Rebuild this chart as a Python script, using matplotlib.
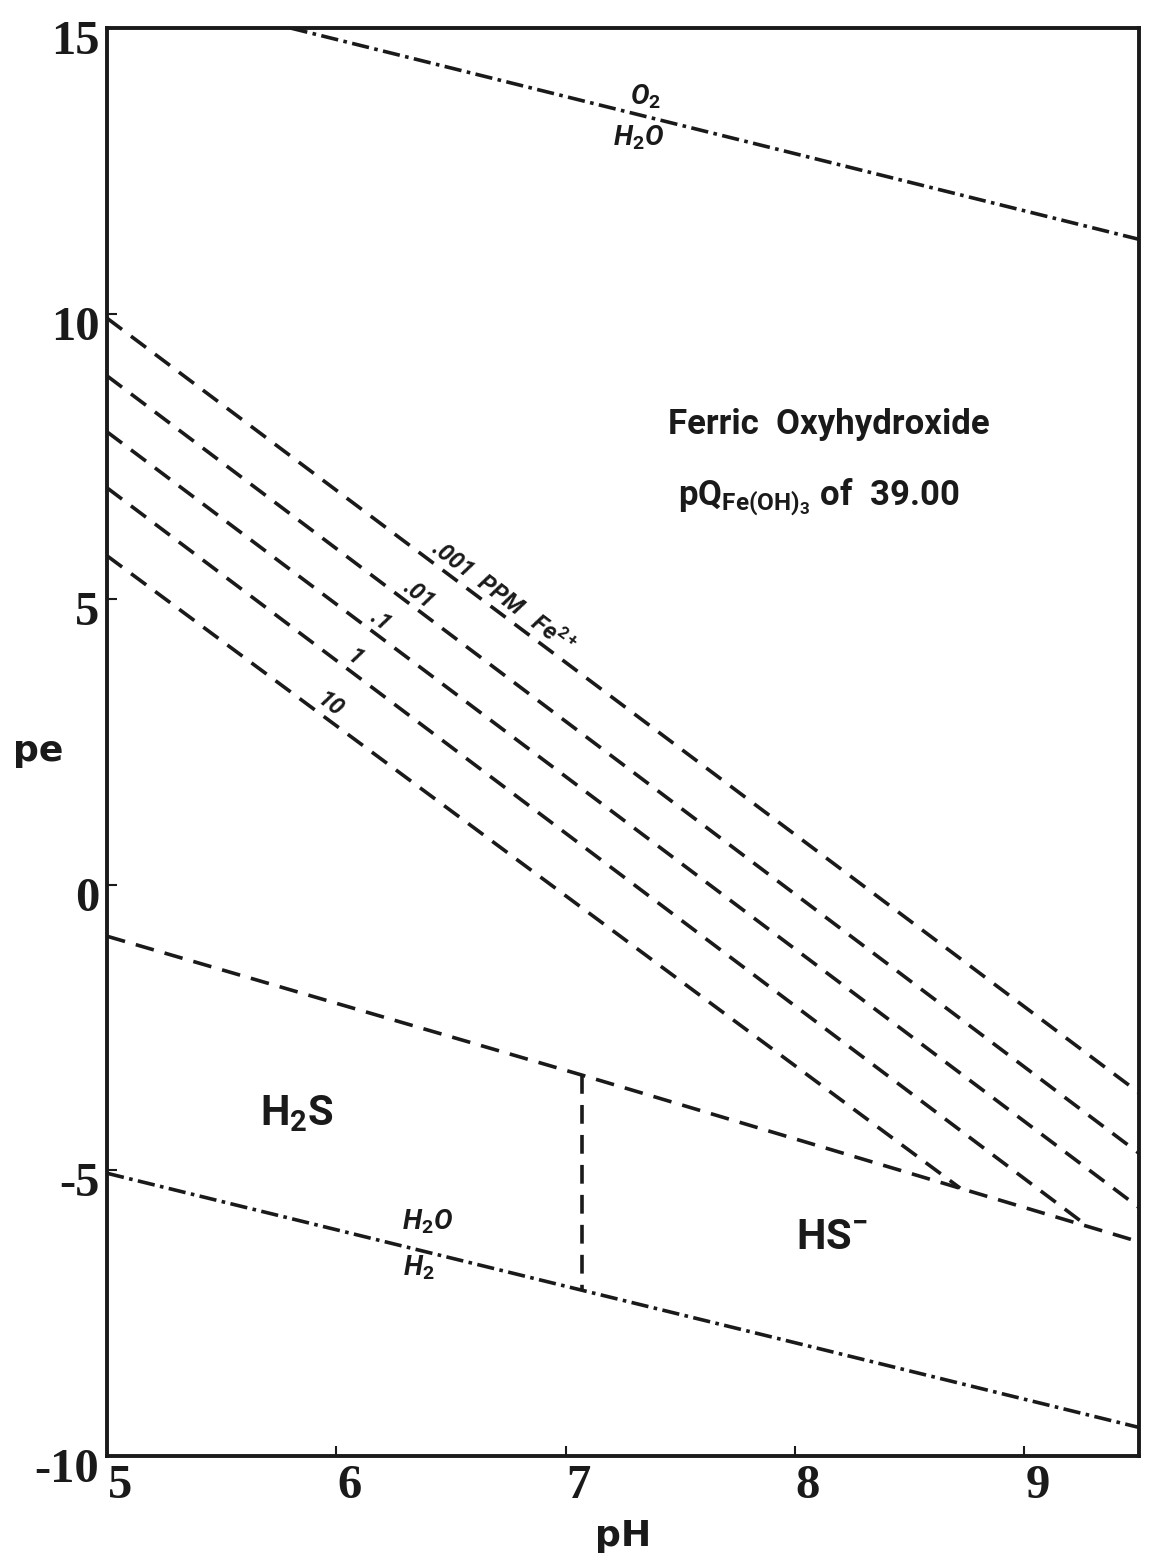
import matplotlib
matplotlib.use("Agg")
import matplotlib.pyplot as plt
import matplotlib.transforms as mtransforms
import numpy as np

# ---------------- data ----------------
ph_limits = [5.0, 9.5]
pe_limits = [-10.0, 15.0]
x_ticks = [5, 6, 7, 8, 9]
y_ticks = [-10, -5, 0, 5, 10, 15]

# water stability limits
o2_ph = [5.8, 9.5]
o2_pe = [15.0, 11.3]
h2_ph = [5.0, 9.5]
h2_pe = [-5.05, -9.5]

# Fe2+ activity lines (ppm), start at pH 5 and end at right edge / sulfur boundary
fe_labels = ['.001', '.01', '.1', '1', '10']
fe_ph_start = [5.0, 5.0, 5.0, 5.0, 5.0]
fe_pe_start = [9.92, 8.91, 7.93, 6.95, 5.76]
fe_ph_end = [9.5, 9.5, 9.5, 9.28, 8.72]
fe_pe_end = [-3.64, -4.70, -5.65, -5.99, -5.31]
fe_label_ph = [6.39, 6.33, 6.16, 6.05, 5.94]

# sulfate / sulfide boundary
s_ph = [5.0, 7.07, 9.5]
s_pe = [-0.90, -3.33, -6.25]
# H2S / HS- boundary
hs_ph = [7.07, 7.07]
hs_pe = [-3.33, -7.07]

# ---------------- style ----------------
FONT = 'Roboto'
plt.rcParams['mathtext.fontset'] = 'custom'
plt.rcParams['mathtext.rm'] = 'Roboto:bold'
plt.rcParams['mathtext.bf'] = 'Roboto:bold'
plt.rcParams['mathtext.it'] = 'Roboto:italic:bold'

INK = '#1a1a1a'

fig = plt.figure(figsize=(11.52, 15.64), dpi=100)
ax = fig.add_axes([107/1152, 1 - 1456/1564, (1139-107)/1152, (1456-28)/1564])

lw = 2.6
dash = (0, (5.2, 3.1))
dashdot = (0, (4.8, 1.5, 1.0, 1.5))

ax.plot(o2_ph, o2_pe, color=INK, lw=lw, linestyle=dashdot)
ax.plot(h2_ph, h2_pe, color=INK, lw=lw, linestyle=dashdot)

for i in range(len(fe_labels)):
    ax.plot([fe_ph_start[i], fe_ph_end[i]], [fe_pe_start[i], fe_pe_end[i]],
            color=INK, lw=lw, linestyle=dash)

ax.plot(s_ph, s_pe, color=INK, lw=lw, linestyle=dash)
ax.plot(hs_ph, hs_pe, color=INK, lw=lw, linestyle=dash)

ax.set_xlim(ph_limits)
ax.set_ylim(pe_limits)
ax.set_xticks(x_ticks)
ax.set_yticks(y_ticks)
ax.set_xticklabels([str(t) for t in x_ticks])
ax.set_yticklabels([str(t) for t in y_ticks])

for s in ax.spines.values():
    s.set_linewidth(2.8)
    s.set_color(INK)

ax.tick_params(direction='in', length=7, width=1.5, colors=INK, pad=4)
for lab in ax.get_xticklabels() + ax.get_yticklabels():
    lab.set_fontfamily('Liberation Serif')
    lab.set_fontweight('bold')
    lab.set_fontsize(35)
    lab.set_color(INK)

xoff = mtransforms.ScaledTranslation(13/100, -2/100, fig.dpi_scale_trans)
for lab in ax.get_xticklabels():
    lab.set_transform(lab.get_transform() + xoff)
yoff = mtransforms.ScaledTranslation(-2/100, -9/100, fig.dpi_scale_trans)
for lab in ax.get_yticklabels():
    lab.set_transform(lab.get_transform() + yoff)

ax.set_xlabel('pH', fontsize=26, fontweight='bold', family='DejaVu Sans', labelpad=8, color=INK)
ax.text(-0.067, 0.494, 'pe', transform=ax.transAxes, fontsize=26, fontweight='bold',
        family='DejaVu Sans', ha='center', va='center', color=INK)

# ---------------- labels ----------------
fig.canvas.draw()
p1 = ax.transData.transform((fe_ph_start[0], fe_pe_start[0]))
p2 = ax.transData.transform((fe_ph_end[0], fe_pe_end[0]))
ang = np.degrees(np.arctan2(p2[1] - p1[1], p2[0] - p1[0]))

lift = ax.transData + mtransforms.ScaledTranslation(0, 2/100, fig.dpi_scale_trans)
for i, lab in enumerate(fe_labels):
    ph = fe_label_ph[i]
    slope = (fe_pe_end[i] - fe_pe_start[i]) / (fe_ph_end[i] - fe_ph_start[i])
    pe = fe_pe_start[i] + slope * (ph - fe_ph_start[i])
    txt = lab
    if i == 0:
        txt = r'.001  PPM   Fe$^{\mathit{2+}}$'
    ax.text(ph, pe, txt, rotation=ang, rotation_mode='anchor',
            ha='left' if i == 0 else 'center', va='bottom', fontsize=17,
            family=FONT, fontweight='bold', style='italic', color=INK, transform=lift)

def ital(x, y, s, size=20):
    ax.text(x, y, s, fontsize=size, family=FONT, fontweight='bold', style='italic',
            ha='center', va='center', color=INK)

ital(7.35, 13.79, r'O$_{\mathit{2}}$')
ital(7.32, 13.07, r'H$_{\mathit{2}}$O')
ital(6.40, -5.90, r'H$_{\mathit{2}}$O')
ital(6.36, -6.71, r'H$_{\mathit{2}}$')

ax.text(0.699, 0.722, 'Ferric  Oxyhydroxide', transform=ax.transAxes, fontsize=25,
        family=FONT, fontweight='bold', ha='center', va='center', color=INK)
ax.text(0.690, 0.6716, r'pQ$_{\mathrm{Fe(OH)_3}}$ of  39.00', transform=ax.transAxes, fontsize=25,
        family=FONT, fontweight='bold', ha='center', va='center', color=INK)

ax.text(5.83, -4.0, 'H$_2$S', fontsize=30, family=FONT, fontweight='bold',
        ha='center', va='center', color=INK)
ax.text(8.16, -6.18, 'HS$^{-}$', fontsize=30, family=FONT, fontweight='bold',
        ha='center', va='center', color=INK)

fig.savefig('out.png', dpi=100, facecolor='white')
